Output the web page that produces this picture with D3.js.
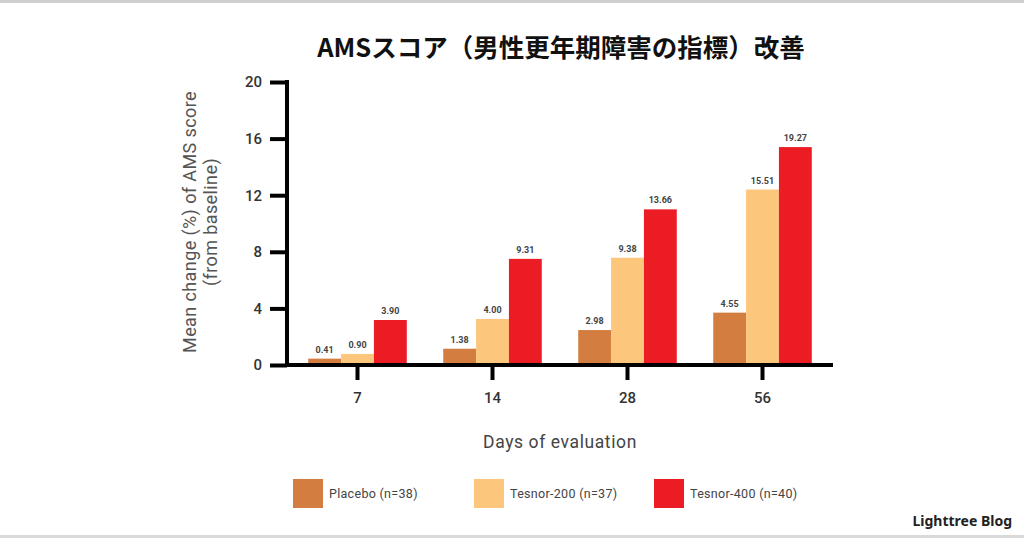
<!DOCTYPE html>
<html>
<head>
<meta charset="utf-8">
<script src="https://cdn.jsdelivr.net/npm/d3@7"></script>
<style>
  body { margin: 0; background: #fff; }
  svg { display: block; }
  .tick text { font-family: Roboto, sans-serif; font-weight: 500; fill: #333; }
</style>
</head>
<body>
<div id="chart"></div>
<script>
/* DATA */
const days = ["7", "14", "28", "56"];
const groups = ["Placebo (n=38)", "Tesnor-200 (n=37)", "Tesnor-400 (n=40)"];
const colors = ["#D37D40", "#FDC67D", "#EC1C24"];
// bar heights as drawn in the picture
const placebo = [0.45, 1.15, 2.47, 3.7];
const tesnor200 = [0.78, 3.25, 7.58, 12.4];
const tesnor400 = [3.18, 7.5, 11.0, 15.4];
// value labels printed above the bars
const placeboLabels = ["0.41", "1.38", "2.98", "4.55"];
const tesnor200Labels = ["0.90", "4.00", "9.38", "15.51"];
const tesnor400Labels = ["3.90", "9.31", "13.66", "19.27"];
const yTicks = [0, 4, 8, 12, 16, 20];

const width = 1024,
  height = 538;

const series = [placebo, tesnor200, tesnor400];
const labels = [placeboLabels, tesnor200Labels, tesnor400Labels];

const svg = d3.select("#chart")
  .append("svg")
  .attr("width", width)
  .attr("height", height);

// frame lines top and bottom
svg.append("rect").attr("x", 0).attr("y", 0).attr("width", width).attr("height", 3).attr("fill", "#cfcfcf");
svg.append("rect").attr("x", 0).attr("y", height - 3).attr("width", width).attr("height", 3).attr("fill", "#d9d9d9");

/* SCALES */
const xScale = d3.scaleBand()
  .domain(days)
  .range([290, 830])
  .paddingInner(0.27)
  .paddingOuter(0.135);

const inner = d3.scaleBand()
  .domain(d3.range(groups.length))
  .range([0, xScale.bandwidth()]);

const yScale = d3.scaleLinear()
  .domain([0, 20])
  .range([365, 82]);

/* BARS */
const rows = days.map((d, i) => ({ day: d, values: series.map((s, j) => ({ j, v: s[i], label: labels[j][i] })) }));

const g = svg.selectAll("g.day")
  .data(rows)
  .join("g")
  .attr("class", "day")
  .attr("transform", d => `translate(${xScale(d.day)},0)`);

g.selectAll("rect")
  .data(d => d.values)
  .join("rect")
  .attr("x", d => inner(d.j))
  .attr("width", inner.bandwidth())
  .attr("y", d => yScale(d.v))
  .attr("height", d => yScale(0) - yScale(d.v))
  .attr("fill", d => colors[d.j]);

g.selectAll("text.val")
  .data(d => d.values)
  .join("text")
  .attr("class", "val")
  .attr("x", d => inner(d.j) + inner.bandwidth() / 2)
  .attr("y", d => yScale(d.v) - 6)
  .attr("text-anchor", "middle")
  .attr("font-family", "Roboto, sans-serif")
  .attr("font-weight", 700)
  .attr("font-size", 9)
  .attr("fill", "#444")
  .text(d => d.label);

/* AXES */
const yAxis = d3.axisLeft(yScale).tickValues(yTicks).tickSize(17).tickSizeOuter(0).tickPadding(8);
const xAxis = d3.axisBottom(xScale).tickSize(15).tickSizeOuter(0).tickPadding(12);

const yG = svg.append("g")
  .attr("transform", `translate(287,0)`)
  .call(yAxis);
yG.select(".domain").remove();
yG.selectAll("line").attr("stroke", "#000").attr("stroke-width", 4);
yG.selectAll("text").attr("font-size", 15);

const xG = svg.append("g")
  .attr("transform", `translate(0,${yScale(0)})`)
  .call(xAxis);
xG.select(".domain").remove();
xG.selectAll("line").attr("stroke", "#000").attr("stroke-width", 4);
xG.selectAll("text").attr("font-size", 15).attr("font-weight", 700);

// axis lines
svg.append("line")
  .attr("x1", 287).attr("x2", 287)
  .attr("y1", yScale(20) - 2).attr("y2", yScale(0) + 2)
  .attr("stroke", "#000").attr("stroke-width", 4);
svg.append("line")
  .attr("x1", 285).attr("x2", xScale.range()[1] + 3)
  .attr("y1", yScale(0)).attr("y2", yScale(0))
  .attr("stroke", "#000").attr("stroke-width", 4);

/* TITLE AND LABELS */
svg.append("text")
  .attr("x", 561)
  .attr("y", 57)
  .attr("text-anchor", "middle")
  .attr("font-family", "'Noto Sans CJK JP', sans-serif")
  .attr("font-weight", 700)
  .attr("font-size", 25.5)
  .attr("fill", "#111")
  .text("AMSスコア（男性更年期障害の指標）改善");

const yLabel = svg.append("text")
  .attr("transform", "translate(199,222) rotate(-90)")
  .attr("text-anchor", "middle")
  .attr("font-family", "Roboto, sans-serif")
  .attr("font-size", 18)
  .attr("letter-spacing", 0.4)
  .attr("fill", "#555");
yLabel.append("tspan").attr("x", 0).attr("dy", "-0.15em").text("Mean change (%) of AMS score");
yLabel.append("tspan").attr("x", 0).attr("dy", "1.15em").text("(from baseline)");

svg.append("text")
  .attr("x", 560)
  .attr("y", 448)
  .attr("text-anchor", "middle")
  .attr("font-family", "Roboto, sans-serif")
  .attr("font-size", 17.5)
  .attr("letter-spacing", 0.6)
  .attr("fill", "#444")
  .text("Days of evaluation");

/* LEGEND */
const legendX = [293, 474, 654];
const legend = svg.selectAll("g.legend")
  .data(groups)
  .join("g")
  .attr("class", "legend")
  .attr("transform", (d, i) => `translate(${legendX[i]},479)`);

legend.append("rect")
  .attr("width", 30)
  .attr("height", 29)
  .attr("fill", (d, i) => colors[i]);

legend.append("text")
  .attr("x", 36)
  .attr("y", 19)
  .attr("font-family", "Roboto, sans-serif")
  .attr("font-size", 12.5)
  .attr("letter-spacing", 0.3)
  .attr("fill", "#444")
  .text(d => d);

svg.append("text")
  .attr("x", 1012)
  .attr("y", 526)
  .attr("text-anchor", "end")
  .attr("font-family", "'Noto Sans', sans-serif")
  .attr("font-weight", 700)
  .attr("font-size", 14)
  .attr("fill", "#222")
  .text("Lighttree Blog");
</script>
</body>
</html>
